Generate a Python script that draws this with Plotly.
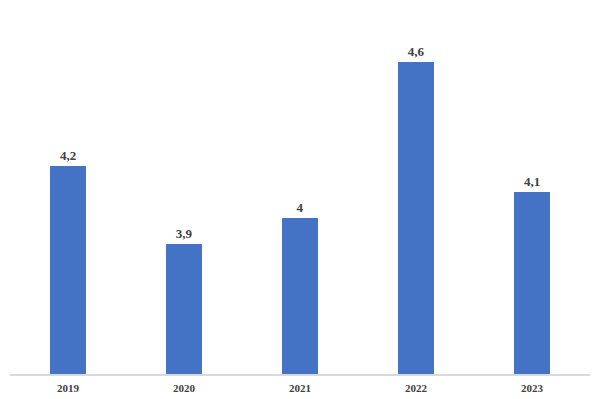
import plotly.graph_objects as go

years = ["2019", "2020", "2021", "2022", "2023"]
values = [4.2, 3.9, 4.0, 4.6, 4.1]

serif = "Times New Roman, Liberation Serif, serif"

fig = go.Figure(go.Bar(
    x=years, y=values,
    marker=dict(color="#4472C4", line=dict(width=0)),
    texttemplate="%{y}",
    textposition="outside",
    cliponaxis=False,
    textfont=dict(family=serif, size=13, color="#404040", weight="bold"),
))
fig.update_layout(
    width=599, height=399,
    margin=dict(l=2, r=17, t=2, b=33),
    paper_bgcolor="white", plot_bgcolor="white",
    separators=", ",
    bargap=0.69,
    showlegend=False,
    font=dict(family=serif, color="#404040"),
)
fig.update_xaxes(
    showline=True, linecolor="#d9d9d9", linewidth=1.5,
    showgrid=False, ticks="", ticklabelstandoff=3,
    tickfont=dict(family=serif, size=11, color="#404040", weight="bold"),
)
fig.update_yaxes(range=[3.4, 4.8], visible=False, showgrid=False)
fig.write_html("out.html")
